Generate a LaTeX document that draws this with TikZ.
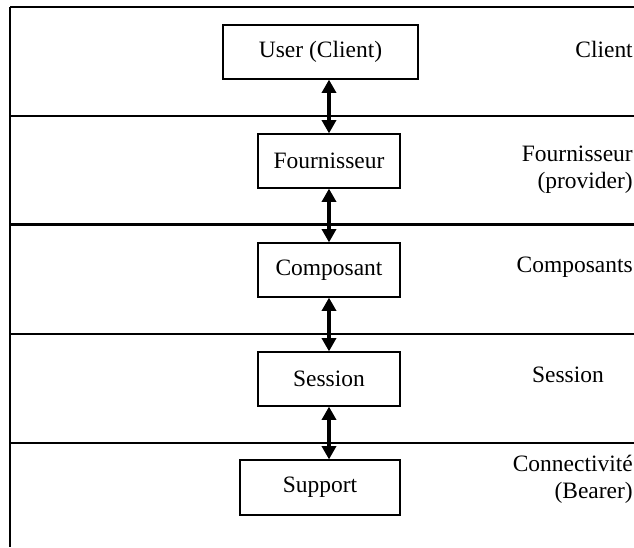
\documentclass[tikz,border=0pt]{standalone}
\usepackage{fontspec}
\setmainfont{Liberation Serif}
\usetikzlibrary{arrows.meta}
\begin{document}
\begin{tikzpicture}[x=0.75pt,y=-0.75pt,
  every node/.style={font=\fontsize{17.6pt}{20.25pt}\selectfont},
  layerbox/.style={draw, line width=0.9pt, inner sep=0pt, minimum height=40.5pt},
  sidelabel/.style={anchor=east, align=right, inner sep=0pt},
  sepline/.style={line width=2pt},
  link/.style={line width=2.6pt, {Triangle[length=10pt,width=10.5pt]}-{Triangle[length=10pt,width=10.5pt]}}]
\useasboundingbox (0,0) rectangle (634,547);
% frame and layer separators
\coordinate (tl) at (10,7);
\coordinate (tr) at (634,7);
\coordinate (bl) at (10,547);
\draw[line width=1.5pt] (tr) -- (tl);
\draw[line width=2pt] (tl) -- (bl);
\foreach \y in {116,224.5,334,443}{
  \draw[sepline] (10,\y) -- (634,\y);
}
% boxes
\node[layerbox, minimum width=146.25pt] (user) at (320.5,52) {User (Client)};
\node[layerbox, minimum width=106.5pt] (fourn) at (329,161) {Fournisseur};
\node[layerbox, minimum width=106.5pt] (comp) at (329,270) {Composant};
\node[layerbox, minimum width=106.5pt] (sess) at (329,379) {Session};
\node[layerbox, minimum width=120pt, minimum height=41.25pt] (supp) at (320,487.5) {Support};
% connectors
\draw[link] (fourn.north |- user.south) -- (fourn.north);
\draw[link] (fourn.south) -- (comp.north);
\draw[link] (comp.south) -- (sess.north);
\draw[link] (sess.south) -- (sess.south |- supp.north);
% side labels
\node[sidelabel] (lclient) at (633,49) {Client};
\node[sidelabel] (lfourn) at (633,169.5) {Fournisseur\\(provider)};
\node[sidelabel] (lcomp) at (633,267) {Composants};
\node[inner sep=0pt] (lsess) at (568,375) {Session};
\node[sidelabel] (lconn) at (633,479) {Connectivité\\(Bearer)};
\end{tikzpicture}
\end{document}
